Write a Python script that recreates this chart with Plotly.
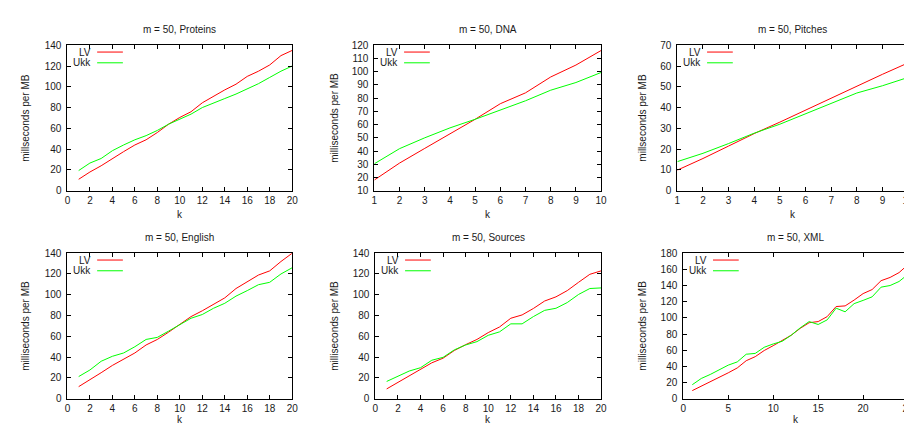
import plotly.graph_objects as go

W, H = 912, 424

# ---- data ----
k_prot = list(range(1, 21))
lv_prot = [11, 18, 24, 31, 37.6, 44, 49, 56, 64, 70.5, 76, 84.6, 91, 97, 102.5, 110, 115, 121, 130, 135]
ukk_prot = [19.4, 26.6, 31, 38.5, 44, 49, 53, 58, 64, 69, 73.7, 80, 84, 88.7, 93, 98, 103, 109, 115, 120]

k_dna = list(range(1, 11))
lv_dna = [18.1, 30.9, 42, 53, 64, 75.8, 84, 96, 105, 116]
ukk_dna = [30.4, 41.8, 50, 57.5, 64, 71, 78, 86, 91.8, 99.4]

k_pit = list(range(1, 11))
lv_pit = [9.9, 15.5, 21.5, 27.5, 33, 38.8, 44.5, 50, 56, 61.5]
ukk_pit = [14, 18, 22.7, 27.7, 32, 37, 41.8, 47, 50.5, 54.5]

k_eng = list(range(1, 21))
lv_eng = [11.6, 17.9, 25, 32, 37.6, 44, 51.7, 57, 64, 71.5, 79, 84.6, 91, 97, 106, 112.8, 119, 123, 132, 140]
ukk_eng = [21.3, 27.6, 36, 40.8, 44, 50, 57, 59, 65, 71.5, 77.4, 81, 87, 91.8, 98.7, 104, 109.7, 112, 120, 126]

k_src = list(range(1, 21))
lv_src = [9.4, 15.7, 22, 27.6, 34.5, 39, 46.4, 52, 57, 63.6, 69, 77.4, 80.6, 86.8, 94, 98, 104, 112, 119.7, 123]
ukk_src = [16.6, 22, 26.6, 29.8, 37, 39.8, 47, 51.7, 54.9, 61, 64.3, 72, 72, 79, 85, 87, 92.5, 100.3, 106, 106.6]

k_xml = list(range(1, 26))
lv_xml = [10, 15.3, 21, 26, 32, 38, 47, 52, 59.6, 65.6, 71.7, 78.5, 87, 94, 95.4, 101.5, 114, 114.8, 122, 130, 135, 146, 150, 156, 166]
ukk_xml = [17.3, 25, 30, 36, 41.5, 45.5, 55, 56, 63.6, 67.7, 71, 78.5, 87.6, 95.4, 91.8, 97.5, 112, 107.5, 117.6, 121.6, 126, 138, 140, 145, 154]

titles = ["m = 50, Proteins", "m = 50, DNA", "m = 50, Pitches",
          "m = 50, English", "m = 50, Sources", "m = 50, XML"]
ylabels = ["millseconds per MB", "milliseconds per MB", "millseconds per MB",
           "milliseconds per MB", "milliseconds per MB", "milliseconds per MB"]
series_names = ["LV", "Ukk"]

panels = [
    (k_prot, lv_prot, ukk_prot, [0, 20], 2, [0, 140], 20),
    (k_dna, lv_dna, ukk_dna, [1, 10], 1, [10, 120], 10),
    (k_pit, lv_pit, ukk_pit, [1, 10], 1, [0, 70], 10),
    (k_eng, lv_eng, ukk_eng, [0, 20], 2, [0, 140], 20),
    (k_src, lv_src, ukk_src, [0, 20], 2, [0, 140], 20),
    (k_xml, lv_xml, ukk_xml, [0, 25], 5, [0, 180], 20),
]

# ---- layout geometry (pixels) ----
px_x = [(57, 284), (367, 596), (673, 906), (57, 284), (368, 596), (679, 906)]
px_y = [(33, 182)] * 3 + [(246, 395)] * 3
ylab_px = [15, 327, 638, 15, 327, 638]
klab_off = [24, 24, 24, 21, 21, 21]

RED = "#ff0000"
GREEN = "#00ff00"
FONT = "Liberation Sans, Arial, sans-serif"
TXT = "#1a1a1a"

fig = go.Figure()
annotations = []
shapes = []

for i, (kx, lv, ukk, xr, dx, yr, dy) in enumerate(panels):
    n = i + 1
    xa = "x" if n == 1 else f"x{n}"
    ya = "y" if n == 1 else f"y{n}"
    fig.add_trace(go.Scatter(x=kx, y=lv, mode="lines", name=series_names[0],
                             line=dict(color=RED, width=1), xaxis=xa, yaxis=ya,
                             showlegend=False))
    fig.add_trace(go.Scatter(x=kx, y=ukk, mode="lines", name=series_names[1],
                             line=dict(color=GREEN, width=1), xaxis=xa, yaxis=ya,
                             showlegend=False))
    x0, x1 = px_x[i]
    y0, y1 = px_y[i]
    axcommon = dict(showgrid=False, zeroline=False, showline=True, linecolor="black",
                    linewidth=1, mirror="allticks", ticks="inside", ticklen=4,
                    tickcolor="black", tickfont=dict(family=FONT, size=10, color=TXT))
    fig.layout[f"xaxis{'' if n == 1 else n}"] = dict(
        domain=[x0 / W, x1 / W], range=xr, dtick=dx, tick0=0, anchor=ya, **axcommon)
    fig.layout[f"yaxis{'' if n == 1 else n}"] = dict(
        domain=[1 - y1 / H, 1 - y0 / H], range=yr, dtick=dy, anchor=xa,
        ticklabelstandoff=3, **axcommon)

    cx = (x0 + x1) / 2 / W
    # title
    annotations.append(dict(text=titles[i], x=cx, y=1 - (y0 - 16) / H, xref="paper", yref="paper",
                            showarrow=False, font=dict(family=FONT, size=10, color=TXT),
                            xanchor="center", yanchor="middle"))
    # x label
    annotations.append(dict(text="k", x=cx, y=1 - (y1 + klab_off[i]) / H, xref="paper", yref="paper",
                            showarrow=False, font=dict(family=FONT, size=10, color=TXT),
                            xanchor="center", yanchor="middle"))
    # y label
    annotations.append(dict(text=ylabels[i], x=ylab_px[i] / W, y=1 - (y0 + y1) / 2 / H,
                            xref="paper", yref="paper", textangle=-90, showarrow=False,
                            font=dict(family=FONT, size=10, color=TXT),
                            xanchor="center", yanchor="middle"))
    # legend (gnuplot style: text then sample)
    for j, (nm, col) in enumerate(zip(series_names, [RED, GREEN])):
        ly = 1 - (y0 + 7 + j * 11) / H
        annotations.append(dict(text=nm, x=(x0 + 26) / W, y=ly, xref="paper", yref="paper",
                                showarrow=False, xanchor="right", yanchor="middle",
                                font=dict(family=FONT, size=10, color=TXT)))
        shapes.append(dict(type="line", xref="paper", yref="paper",
                           x0=(x0 + 30) / W, x1=(x0 + 56) / W, y0=ly, y1=ly,
                           line=dict(color=col, width=1)))

fig.update_layout(width=W, height=H, margin=dict(l=0, r=0, t=0, b=0),
                  paper_bgcolor="white", plot_bgcolor="white",
                  annotations=annotations, shapes=shapes, showlegend=False)

fig.write_html("out.html")
